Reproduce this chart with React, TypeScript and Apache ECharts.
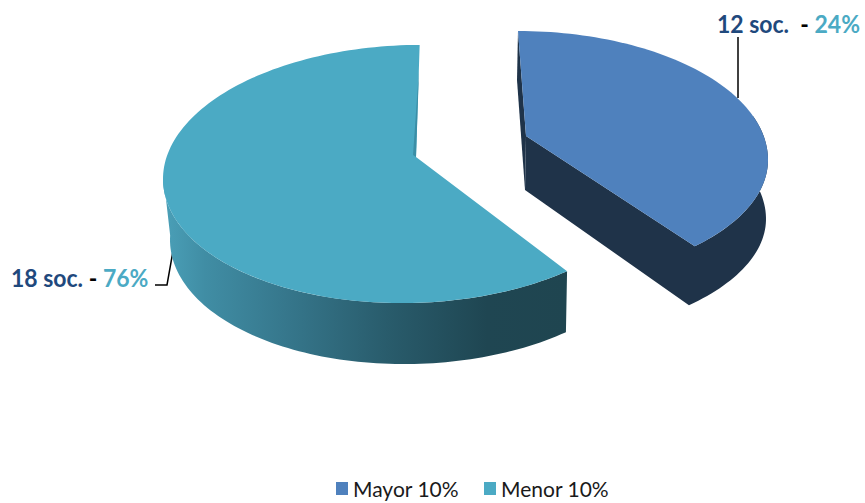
import React, { useEffect, useRef } from "react";
import * as echarts from "echarts";

const categories = ["Mayor 10%", "Menor 10%"];
const societies = [12, 18];
const percentLabels = ["24%", "76%"];

const BLUE = "#4F81BD";
const NAVY = "#1F3349";
const TEAL = "#4BAAC4";
const TEXT_BLUE = "#1F497D";
const TOTAL = societies.reduce((a, b) => a + b, 0);

type Pt = [number, number];

function arc(
  cx: number, cy: number, rx: number, ryTop: number, ryBottom: number,
  tilt: number, from: number, to: number
): Pt[] {
  const pts: Pt[] = [];
  const steps = Math.max(2, Math.ceil(Math.abs(to - from) / 1.5));
  for (let i = 0; i <= steps; i++) {
    const t = ((from + ((to - from) * i) / steps) * Math.PI) / 180;
    const c = Math.cos(t);
    const x = cx + rx * Math.sin(t);
    pts.push([x, cy - (c > 0 ? ryTop : ryBottom) * c - tilt * (x - cx)]);
  }
  return pts;
}

// Angle lost to the picture's perspective at the boundary between both slices.
const SKEW_RIGHT = -9;
const SKEW_LEFT = -3;

function renderRight(_p: any, api: any) {
  const sweep = (api.value(0) / TOTAL) * 360 + SKEW_RIGHT;
  const [cx, cy, rx, ryT, ryB] = [518, 160, 250, 129, 122];
  const apex: Pt = [526, 136];
  const wallFoot: Pt = [525, 190];
  const top = arc(cx, cy, rx, ryT, ryB, 0, 0, sweep);
  const wallTop = arc(cx, cy, rx, ryT, ryB, 0, 70, sweep);
  const wallBottom = arc(cx - 15, cy + 59, rx + 13, ryT, ryB, 0, 70, sweep);
  return {
    type: "group",
    children: [
      {
        type: "polygon",
        shape: { points: [[518, 31], [517, 80], wallFoot, apex] },
        style: { fill: NAVY },
      },
      {
        type: "polygon",
        shape: { points: [apex, ...wallTop.reverse(), ...wallBottom, wallFoot] },
        style: { fill: NAVY },
      },
      { type: "polygon", shape: { points: [apex, ...top] }, style: { fill: BLUE } },
    ],
  };
}

function renderLeft(_p: any, api: any) {
  const start = 360 - (api.value(0) / TOTAL) * 360 + SKEW_LEFT;
  const [cx, cy, rx, ry, tilt] = [411, 174, 248, 129, 0.02];
  const apex: Pt = [416, 157];
  const end = 362;
  const top = arc(cx, cy, rx, ry, ry, tilt, start, end);
  const wallTop = arc(cx, cy, rx, ry, ry, tilt, start, 272);
  const wallBottom = arc(cx + 2, cy + 61, rx - 5, ry, ry, tilt, start, 272);
  const wallFill = new echarts.graphic.LinearGradient(
    165, 0, 567, 0,
    [
      { offset: 0, color: "#4A9FB7" },
      { offset: 0.1, color: "#408DA4" },
      { offset: 0.3, color: "#36778C" },
      { offset: 0.55, color: "#295C6C" },
      { offset: 0.8, color: "#1F4652" },
      { offset: 1, color: "#1F4550" },
    ],
    true
  );
  return {
    type: "group",
    children: [
      {
        type: "polygon",
        shape: { points: [...wallTop, ...wallBottom.reverse()] },
        style: { fill: wallFill },
      },
      { type: "polygon", shape: { points: [apex, ...top] }, style: { fill: TEAL } },
      {
        type: "polygon",
        shape: { points: [[419, 70], [416, 157], [413, 155]] },
        style: { fill: "#3B8EA6" },
      },
    ],
  };
}

const renderers = [renderRight, renderLeft];

export default function App() {
  const ref = useRef<HTMLDivElement>(null);
  useEffect(() => {
    const chart = echarts.init(ref.current!, undefined, { renderer: "svg" });
    const richLabel = {
      a: { fill: TEXT_BLUE, color: TEXT_BLUE, font: "700 23px Lato" },
      k: { fill: "#000", color: "#000", font: "700 23px Lato" },
      b: { fill: TEAL, color: TEAL, font: "700 23px Lato" },
    };
    chart.setOption({
      animation: false,
      backgroundColor: "#fff",
      legend: {
        data: categories,
        selectedMode: false,
        left: 331,
        top: 473,
        icon: "rect",
        itemWidth: 12,
        itemHeight: 13,
        itemGap: 25,
        textStyle: { fontFamily: "Lato", fontSize: 21, color: "#1a1a1a" },
      },
      series: categories.map((name, i) => ({
        type: "custom",
        name,
        coordinateSystem: "none",
        itemStyle: { color: i === 0 ? BLUE : TEAL },
        silent: true,
        data: [{ value: societies[i], name }],
        renderItem: renderers[i],
      })),
      graphic: [
        {
          type: "polyline",
          shape: { points: [[738, 37], [738, 98]] },
          style: { stroke: "#000", lineWidth: 1.5, fill: "none" },
        },
        {
          type: "polyline",
          shape: { points: [[173, 251], [167, 285], [155, 285]] },
          style: { stroke: "#000", lineWidth: 1.5, fill: "none" },
        },
        {
          type: "text",
          x: 717,
          y: 23,
          scaleY: 1.1,
          style: {
            text: `{a|${societies[0]} soc.}{k|  - }{b|${percentLabels[0]}}`,
            rich: richLabel,
            verticalAlign: "middle",
          },
        },
        {
          type: "text",
          x: 11,
          y: 277,
          scaleY: 1.1,
          style: {
            text: `{a|${societies[1]} soc.}{k| - }{b|${percentLabels[1]}}`,
            rich: richLabel,
            verticalAlign: "middle",
          },
        },
      ],
    });
    return () => chart.dispose();
  }, []);
  return (
    <div
      ref={ref}
      style={{ position: "fixed", left: 0, top: 0, width: 865, height: 503 }}
    />
  );
}
